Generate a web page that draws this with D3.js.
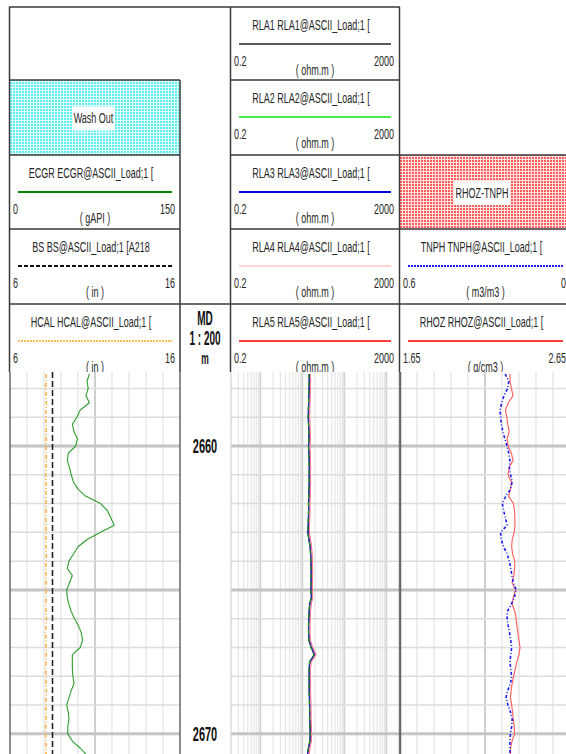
<!DOCTYPE html>
<html>
<head>
<meta charset="utf-8">
<script src="https://cdn.jsdelivr.net/npm/d3@7"></script>
<style>
  html, body { margin: 0; padding: 0; background: #fff; }
  svg { display: block; }
</style>
</head>
<body>
<svg id="log" width="566" height="754"></svg>
<script>
// ---- Log data (measured depth in m, one sample every 0.25 m) ----
const depth = [
  2657.50, 2657.75, 2658.00, 2658.25, 2658.50, 2658.75, 2659.00, 2659.25, 2659.50, 2659.75,
  2660.00, 2660.25, 2660.50, 2660.75, 2661.00, 2661.25, 2661.50, 2661.75, 2662.00, 2662.25,
  2662.50, 2662.75, 2663.00, 2663.25, 2663.50, 2663.75, 2664.00, 2664.25, 2664.50, 2664.75,
  2665.00, 2665.25, 2665.50, 2665.75, 2666.00, 2666.25, 2666.50, 2666.75, 2667.00, 2667.25,
  2667.50, 2667.75, 2668.00, 2668.25, 2668.50, 2668.75, 2669.00, 2669.25, 2669.50, 2669.75,
  2670.00, 2670.25, 2670.50, 2670.75
];

// Gamma ray (gAPI)
const ecgr = [
  70, 68, 69, 67, 70, 62, 59, 55, 56.5, 59.5,
  58, 51.5, 50.5, 52.5, 54, 56, 60, 67, 80, 86,
  89, 92, 80, 68, 60, 56, 52, 50.5, 55, 52.5,
  50, 50.5, 52, 54, 57, 60.5, 63, 64, 62, 55,
  55, 55, 55.5, 56.5, 54, 52, 50, 51.5, 52, 51,
  51, 55, 62, 68
];

// Caliper (in)
const hcal = [
  8.12, 8.12, 8.10, 8.12, 8.14, 8.12, 8.10, 8.12, 8.13, 8.12,
  8.11, 8.12, 8.14, 8.12, 8.10, 8.12, 8.13, 8.11, 8.12, 8.12,
  8.10, 8.13, 8.12, 8.11, 8.12, 8.14, 8.12, 8.10, 8.12, 8.12,
  8.13, 8.12, 8.11, 8.12, 8.14, 8.12, 8.09, 8.12, 8.12, 8.13,
  8.12, 8.10, 8.12, 8.12, 8.14, 8.12, 8.11, 8.12, 8.12, 8.10,
  8.09, 8.12, 8.12, 8.12
];

// Bit size (in), constant over the interval
const bsDepth = [2657.43, 2670.70];
const bs = [8.5, 8.5];

// Array resistivities (ohm.m)
const rla1 = [
  14.5, 14.6, 14.4, 14.2, 14.1, 13.9, 13.8, 14.0, 14.2, 14.4,
  14.0, 14.2, 14.5, 14.6, 14.5, 14.6, 14.4, 14.2, 14.0, 14.1,
  13.9, 13.8, 13.5, 14.3, 15.3, 15.7, 15.9, 16.1, 16.2, 16.0,
  15.9, 16.4, 14.9, 14.5, 14.2, 14.0, 14.1, 14.3, 16.2, 19.2,
  14.9, 14.5, 14.5, 14.5, 14.5, 14.7, 14.8, 14.9, 14.9, 15.2,
  15.4, 15.1, 13.9, 13.1
];
const rla2 = [
  14.3, 14.5, 14.2, 14.1, 14.0, 13.8, 13.7, 14.0, 14.1, 14.3,
  13.9, 14.1, 14.4, 14.5, 14.4, 14.5, 14.3, 14.1, 13.9, 14.0,
  13.8, 13.7, 13.4, 14.2, 15.2, 15.6, 15.8, 16.0, 16.1, 15.9,
  15.8, 16.3, 14.8, 14.4, 14.1, 13.9, 14.0, 14.2, 16.0, 18.8,
  14.8, 14.4, 14.4, 14.4, 14.4, 14.6, 14.7, 14.8, 14.8, 15.1,
  15.3, 15.0, 13.8, 13.0
];
const rla3 = [
  14.6, 14.6, 14.5, 14.3, 14.1, 14.0, 13.9, 14.1, 14.3, 14.4,
  14.1, 14.3, 14.6, 14.6, 14.6, 14.6, 14.5, 14.3, 14.1, 14.1,
  14.0, 13.8, 13.6, 14.4, 15.4, 15.8, 16.0, 16.2, 16.3, 16.1,
  16.0, 16.5, 15.0, 14.6, 14.3, 14.1, 14.1, 14.4, 16.4, 19.5,
  15.0, 14.6, 14.6, 14.6, 14.6, 14.8, 14.9, 14.9, 14.9, 15.3,
  15.5, 15.2, 14.0, 13.2
];
const rla4 = [
  15.2, 15.2, 15.1, 14.9, 14.7, 14.6, 14.5, 14.7, 14.9, 15.0,
  14.7, 14.9, 15.2, 15.2, 15.2, 15.2, 15.1, 14.9, 14.7, 14.7,
  14.6, 14.4, 14.2, 15.0, 16.0, 16.5, 16.7, 16.9, 17.0, 16.8,
  16.6, 17.2, 15.6, 15.2, 14.9, 14.7, 14.7, 15.0, 17.1, 20.4,
  15.6, 15.2, 15.2, 15.2, 15.2, 15.4, 15.5, 15.5, 15.5, 15.9,
  16.1, 15.8, 14.6, 13.8
];
const rla5 = [
  15.5, 15.6, 15.4, 15.2, 15.0, 14.9, 14.8, 15.0, 15.2, 15.3,
  15.0, 15.2, 15.5, 15.6, 15.5, 15.6, 15.4, 15.2, 15.0, 15.0,
  14.9, 14.7, 14.6, 15.4, 16.4, 16.9, 17.1, 17.3, 17.4, 17.2,
  17.0, 17.6, 16.0, 15.5, 15.2, 15.0, 15.0, 15.3, 17.5, 21.0,
  16.0, 15.5, 15.5, 15.6, 15.5, 15.7, 15.8, 15.9, 15.9, 16.3,
  16.5, 16.2, 15.0, 14.2
];

// Bulk density (g/cm3)
const rhoz = [
  2.297, 2.297, 2.305, 2.315, 2.287, 2.270, 2.278, 2.284, 2.292, 2.280,
  2.285, 2.305, 2.315, 2.292, 2.285, 2.305, 2.300, 2.289, 2.317, 2.324,
  2.326, 2.326, 2.322, 2.310, 2.307, 2.312, 2.325, 2.324, 2.320, 2.309,
  2.330, 2.317, 2.309, 2.326, 2.333, 2.338, 2.344, 2.350, 2.356, 2.350,
  2.337, 2.328, 2.318, 2.310, 2.303, 2.300, 2.307, 2.312, 2.317, 2.322,
  2.324, 2.309, 2.300, 2.300
];

// Neutron porosity (m3/m3)
const tnph = [
  0.229, 0.216, 0.220, 0.233, 0.241, 0.247, 0.245, 0.242, 0.237, 0.230,
  0.222, 0.216, 0.212, 0.214, 0.210, 0.204, 0.210, 0.227, 0.239, 0.234,
  0.228, 0.222, 0.245, 0.243, 0.234, 0.222, 0.214, 0.209, 0.205, 0.200,
  0.190, 0.196, 0.207, 0.221, 0.222, 0.218, 0.213, 0.209, 0.206, 0.209,
  0.212, 0.209, 0.206, 0.210, 0.220, 0.226, 0.219, 0.210, 0.204, 0.206,
  0.210, 0.212, 0.212, 0.212
];

// Depth annotation
const depthLabels = [2660, 2670];
const scaleText = ["MD", "1 : 200", "m"];

// ---- Layout ----
const svg = d3.select("#log");
const T1 = [10, 180], TD = [180, 230], T3 = [231, 399], T4 = [400, 570];
const dataTop = 372, dataBottom = 754;
const rowTops = [7, 80, 155, 229, 304];
const FONT = "'Liberation Sans', Arial, sans-serif";
const INK = "#262626";
const BORDER = "#3a3a3a";

// Scales
const y = d3.scaleLinear().domain([2657.43, 2670.70]).range([dataTop, dataBottom]);
const xGR = d3.scaleLinear().domain([0, 150]).range(T1);
const xCal = d3.scaleLinear().domain([6, 16]).range(T1);
const xRes = d3.scaleLog().domain([0.2, 2000]).range(T3);
const xRho = d3.scaleLinear().domain([1.65, 2.65]).range(T4);
const xNeu = d3.scaleLinear().domain([0.6, 0]).range(T4);

// Hatch patterns for the shading legends
const defs = svg.append("defs");
function hatch(id, base, line) {
  const p = defs.append("pattern").attr("id", id)
    .attr("width", 3).attr("height", 3).attr("patternUnits", "userSpaceOnUse");
  p.append("rect").attr("width", 3).attr("height", 3).attr("fill", base);
  p.append("path").attr("d", "M0 0.5H3M0.5 0V3")
    .attr("stroke", line).attr("stroke-width", 1);
}
hatch("washHatch", "#5eeef2", "#e4feff");
hatch("rhozHatch", "#ff5c5c", "#ffe2e2");

defs.append("clipPath").attr("id", "dataClip")
  .append("rect").attr("x", 0).attr("y", dataTop).attr("width", 566).attr("height", dataBottom - dataTop);

// Condensed text helper: horizontal squeeze keeps the narrow log-header look
function label(g, x, yy, s, o = {}) {
  const size = o.size || 15, sx = o.sx || 0.6;
  g.append("text")
    .attr("transform", `translate(${x},${yy}) scale(${sx},1)`)
    .attr("text-anchor", o.anchor || "middle")
    .attr("dominant-baseline", "central")
    .attr("font-family", FONT)
    .attr("font-size", size)
    .attr("font-weight", o.weight || "normal")
    .attr("fill", o.fill || INK)
    .text(s);
}

// ---- Header ----
const head = svg.append("g");

// Curve header cell: title, sample line, scale ends and unit
function curveCell(track, top, title, stroke, dash, width, lo, hi, unit) {
  const [x0, x1] = track;
  const mid = (x0 + x1) / 2;
  label(head, mid - 4, top + 18, title);
  head.append("line")
    .attr("x1", x0 + 8).attr("x2", x1 - 8)
    .attr("y1", top + 37).attr("y2", top + 37)
    .attr("stroke", stroke).attr("stroke-width", width)
    .attr("stroke-dasharray", dash);
  label(head, x0 + 3, top + 54, lo, { anchor: "start" });
  label(head, x1 - 5, top + 54, hi, { anchor: "end" });
  label(head, mid, top + 63, unit);
}

// Shading legend cell
function shadeCell(track, top, bottom, fillId, name, boxW) {
  const [x0, x1] = track;
  head.append("rect").attr("x", x0).attr("y", top)
    .attr("width", x1 - x0).attr("height", bottom - top)
    .attr("fill", `url(#${fillId})`);
  const cx = (x0 + x1) / 2 - 1, cy = (top + bottom) / 2 + 1;
  head.append("rect").attr("x", cx - boxW / 2).attr("y", cy - 12)
    .attr("width", boxW).attr("height", 24).attr("fill", "#fff");
  label(head, cx, cy, name);
}

shadeCell([9.5, 179.5], rowTops[1], rowTops[2], "washHatch", "Wash Out", 42);
shadeCell([400, 566], rowTops[2], rowTops[3], "rhozHatch", "RHOZ-TNPH", 56);

curveCell(T1, rowTops[2], "ECGR ECGR@ASCII_Load;1 [", "#008a00", null, 2, "0", "150", "( gAPI )");
curveCell(T1, rowTops[3], "BS BS@ASCII_Load;1 [A218", "#111", "4,2", 2.2, "6", "16", "( in )");
curveCell(T1, rowTops[4], "HCAL HCAL@ASCII_Load;1 [", "#f5a623", "2,1", 1.5, "6", "16", "( in )");

curveCell(T3, rowTops[0], "RLA1 RLA1@ASCII_Load;1 [", "#222", null, 1.5, "0.2", "2000", "( ohm.m )");
curveCell(T3, rowTops[1], "RLA2 RLA2@ASCII_Load;1 [", "#44ee44", null, 2, "0.2", "2000", "( ohm.m )");
curveCell(T3, rowTops[2], "RLA3 RLA3@ASCII_Load;1 [", "#0000dd", null, 2, "0.2", "2000", "( ohm.m )");
curveCell(T3, rowTops[3], "RLA4 RLA4@ASCII_Load;1 [", "#ffc4c4", null, 1.5, "0.2", "2000", "( ohm.m )");
curveCell(T3, rowTops[4], "RLA5 RLA5@ASCII_Load;1 [", "#ff3c3c", null, 2, "0.2", "2000", "( ohm.m )");

curveCell([400, 571], rowTops[3], "TNPH TNPH@ASCII_Load;1 [", "#1a1aff", "2,1", 2.2, "0.6", "0", "( m3/m3 )");
curveCell([400, 571], rowTops[4], "RHOZ RHOZ@ASCII_Load;1 [", "#ff3c3c", null, 2, "1.65", "2.65", "( g/cm3 )");

// Depth track header
scaleText.forEach((s, i) => {
  label(head, 205, 318 + i * 20, s, { size: i < 2 ? 20 : 17, weight: "bold", sx: 0.5, fill: "#111" });
});

// Header borders
const hl = (x1, x2, yy) => head.append("line").attr("x1", x1).attr("x2", x2)
  .attr("y1", yy).attr("y2", yy).attr("stroke", BORDER).attr("stroke-width", 1.5);
const vl = (x, y1, y2) => head.append("line").attr("x1", x).attr("x2", x)
  .attr("y1", y1).attr("y2", y2).attr("stroke", BORDER).attr("stroke-width", 1.5);
hl(9, 400, rowTops[0]);
hl(9, 180, rowTops[1]); hl(230, 400, rowTops[1]);
hl(9, 180, rowTops[2]); hl(230, 566, rowTops[2]);
hl(9, 180, rowTops[3]); hl(230, 566, rowTops[3]);
hl(9, 566, rowTops[4]);
vl(9.5, rowTops[0], dataTop);
vl(180, rowTops[1], dataTop);
vl(230.5, rowTops[0], dataTop);
vl(399.5, rowTops[0], dataTop);

// ---- Data area ----
const body = svg.append("g").attr("clip-path", "url(#dataClip)");
body.append("rect").attr("x", 0).attr("y", dataTop).attr("width", 566)
  .attr("height", dataBottom - dataTop).attr("fill", "#fff");

const gridDepths = d3.range(Math.ceil(y.domain()[0]), Math.floor(y.domain()[1]) + 1);

function depthGrid(track) {
  const g = body.append("g");
  g.selectAll("line").data(gridDepths).join("line")
    .attr("x1", track[0]).attr("x2", track[1])
    .attr("y1", d => y(d)).attr("y2", d => y(d))
    .attr("stroke", d => d % 5 === 0 ? "#c4c4c4" : "#dcdcdc")
    .attr("stroke-width", d => d % 5 === 0 ? 3 : 1.5);
}

// Linear tracks: ten divisions, heavier centre line
function linearGrid(scale, track) {
  const [a, b] = scale.domain();
  const ticks = d3.range(1, 10).map(i => a + (b - a) * i / 10);
  body.append("g").selectAll("line").data(ticks).join("line")
    .attr("x1", d => scale(d)).attr("x2", d => scale(d))
    .attr("y1", dataTop).attr("y2", dataBottom)
    .attr("stroke", (d, i) => i === 4 ? "#cfcfcf" : "#e2e2e2")
    .attr("stroke-width", (d, i) => i === 4 ? 2 : 1.2);
  depthGrid(track);
}

// Logarithmic resistivity track
function logGrid(scale, track) {
  const ticks = [];
  for (let e = -1; e <= 3; e++) for (let k = 1; k <= 9; k++) {
    const v = k * Math.pow(10, e);
    if (v > 0.2 && v < 2000) ticks.push({ v, major: k === 1 });
  }
  body.append("g").selectAll("line").data(ticks).join("line")
    .attr("x1", d => scale(d.v)).attr("x2", d => scale(d.v))
    .attr("y1", dataTop).attr("y2", dataBottom)
    .attr("stroke", d => d.major ? "#d2d2d2" : "#e6e6e6")
    .attr("stroke-width", d => d.major ? 1.8 : 1.2);
  depthGrid(track);
}

linearGrid(xGR, T1);
logGrid(xRes, T3);
linearGrid(xRho, T4);

// Track borders
const border = (x, c, w) => body.append("line").attr("x1", x).attr("x2", x)
  .attr("y1", dataTop).attr("y2", dataBottom).attr("stroke", c).attr("stroke-width", w);
border(10, "#666", 1.5);
border(180, "#666", 1.5);
border(231, "#d0d0d0", 1.2);
border(399.5, "#777", 1.5);
border(400.5, "#666", 1.5);

// Depth labels
depthLabels.forEach(d => label(body, 205, y(d), d3.format("d")(d),
  { size: 20, weight: "bold", sx: 0.55, fill: "#111" }));

// Curves
function curve(xs, ds, vs, stroke, width, dash, opacity) {
  const line = d3.line().x(d => xs(d[1])).y(d => y(d[0])).curve(d3.curveLinear);
  body.append("path").datum(ds.map((d, i) => [d, vs[i]]))
    .attr("d", line).attr("fill", "none")
    .attr("stroke", stroke).attr("stroke-width", width)
    .attr("stroke-dasharray", dash).attr("stroke-opacity", opacity || 1)
    .attr("stroke-linejoin", "round");
}

curve(xCal, depth, hcal, "#ffb347", 1.6, "4,2,1,2");
curve(xCal, bsDepth, bs, "#222", 1.6, "6,3");
curve(xGR, depth, ecgr, "#2f9e2f", 1.1);

curve(xRes, depth, rla5, "#ff4b4b", 1.3);
curve(xRes, depth, rla4, "#ff9ec8", 1.2);
curve(xRes, depth, rla1, "#222", 1.1);
curve(xRes, depth, rla3, "#2020cc", 1.2);
curve(xRes, depth, rla2, "#1f8f1f", 1.2, "5,3");

curve(xRho, depth, rhoz, "#ff5a5a", 1.1);
curve(xNeu, depth, tnph, "#1a1aff", 1.6, "3,2,1,2");
</script>
</body>
</html>
